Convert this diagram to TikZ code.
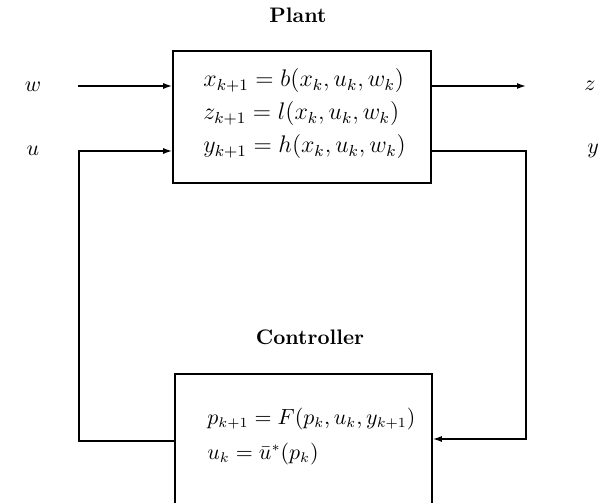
\documentclass[tikz,border=0pt]{standalone}
\usepackage{amsmath}
\usetikzlibrary{arrows.meta}
\begin{document}
\begin{tikzpicture}[x=0.5pt,y=-0.5pt,
  box/.style={draw, line width=0.8pt, inner sep=0pt},
  conn/.style={line width=0.7pt},
  arr/.style={conn, -{Latex[length=4.5pt,width=3pt]}},
  eq/.style={anchor=base west, inner sep=0pt, font=\fontsize{12}{14}\selectfont},
  ceq/.style={anchor=base west, inner sep=0pt, font=\fontsize{10.6}{12}\selectfont},
  lbl/.style={inner sep=0pt, font=\fontsize{11.3}{13}\selectfont},
  ttl/.style={inner sep=0pt, font=\fontsize{10.5}{12}\selectfont\bfseries}]
\useasboundingbox (0,0) rectangle (603,502);
\clip (0,0) rectangle (603,502);
% titles
\node[ttl] (tplant) at (298,15) {Plant};
\node[ttl] (tctrl) at (310,337) {Controller};
% boxes
\node[box, minimum width=129pt, minimum height=66pt] (plant) at (302,117) {};
\node[box, minimum width=128.5pt, minimum height=73pt] (ctrl) at (303.5,447) {};
% equations
\node[eq] (e1) at (203,87) {$x_{k+1} = b(x_k, u_k, w_k)$};
\node[eq] (e2) at (203,120) {$z_{k+1} = l(x_k, u_k, w_k)$};
\node[eq] (e3) at (203,153) {$y_{k+1} = h(x_k, u_k, w_k)$};
\node[ceq] (c1) at (207,424) {$p_{k+1} = F(p_k, u_k, y_{k+1})$};
\node[ceq] (c2) at (207,459) {$u_k = \bar{u}^*(p_k)$};
% labels
\node[lbl] (lw) at (33,87) {$w$};
\node[lbl] (lu) at (33,151) {$u$};
\node[lbl] (lz) at (590,86) {$z$};
\node[lbl] (ly) at (593,151) {$y$};
% connectors
\coordinate (wS) at (78,86);
\coordinate (zE) at (526,86);
\draw[arr] (wS) -- (wS -| plant.west);
\draw[arr] (zE -| plant.east) -- (zE);
\coordinate (uL) at (79,441);
\coordinate (uT) at (79,151);
\draw[arr] (uL -| ctrl.west) -- (uL) -- (uT) -- (uT -| plant.west);
\coordinate (yT) at (526,151);
\coordinate (yB) at (526,439);
\draw[arr] (yT -| plant.east) -- (yT) -- (yB) -- (yB -| ctrl.east);
\end{tikzpicture}
\end{document}
